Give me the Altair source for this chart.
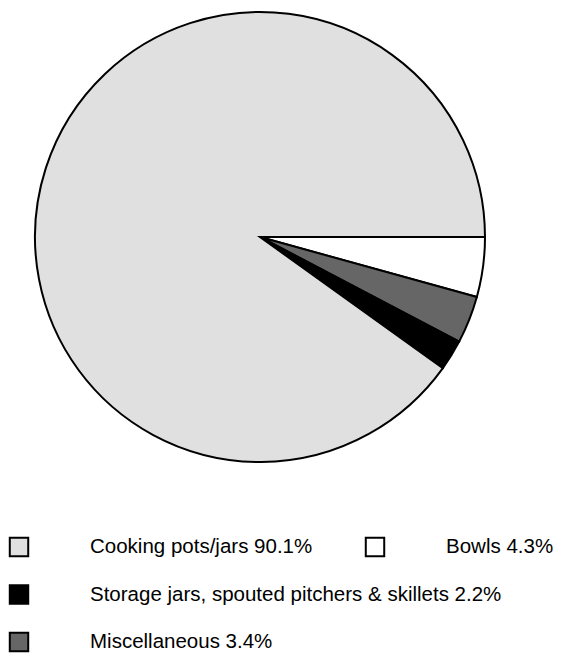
import math
import altair as alt
import pandas as pd

# Data
categories = ["Bowls", "Miscellaneous", "Storage jars, spouted pitchers & skillets", "Cooking pots/jars"]
values = [4.3, 3.4, 2.2, 90.1]
fills = ["#ffffff", "#666666", "#000000", "#e0e0e0"]

legend_labels = [
    "Cooking pots/jars 90.1%",
    "Bowls 4.3%",
    "Storage jars, spouted pitchers & skillets 2.2%",
    "Miscellaneous 3.4%",
]
legend_fills = ["#e0e0e0", "#ffffff", "#000000", "#666666"]
legend_row = [0, 0, 1, 2]
legend_col = [0, 1, 0, 0]

pie_df = pd.DataFrame({"category": categories, "value": values, "fill": fills,
                       "order": list(range(len(categories)))})
leg_df = pd.DataFrame({"label": legend_labels, "fill": legend_fills,
                       "row": legend_row, "col": legend_col})

pie = alt.Chart(pie_df).mark_arc(stroke="black", strokeWidth=2, outerRadius=225).encode(
    theta=alt.Theta("value:Q", stack=True,
                    scale=alt.Scale(range=[math.pi / 2, math.pi / 2 + 2 * math.pi])),
    order=alt.Order("order:Q"),
    color=alt.Color("fill:N", scale=None),
    x=alt.value(252),
    y=alt.value(229),
)

xs = alt.X("col:Q", scale=alt.Scale(domain=[0, 1], range=[11, 367]), axis=None)
ys = alt.Y("row:Q", scale=alt.Scale(domain=[0, 2], range=[539, 634]), axis=None)

swatch = alt.Chart(leg_df).mark_square(size=340, stroke="black", strokeWidth=2, opacity=1).encode(
    x=xs, y=ys, color=alt.Color("fill:N", scale=None)
)

labels = alt.Chart(leg_df).mark_text(align="left", baseline="middle", dx=71,
                                     font="Liberation Sans", fontSize=20.5, color="black").encode(
    x=xs, y=ys, text="label:N"
)

chart = alt.layer(pie, swatch, labels).properties(
    width=546, height=648, padding=0, autosize=alt.AutoSizeParams(type="none")
).configure_view(stroke=None)

chart.save("out.html", embed_options={"renderer": "svg", "actions": False})
